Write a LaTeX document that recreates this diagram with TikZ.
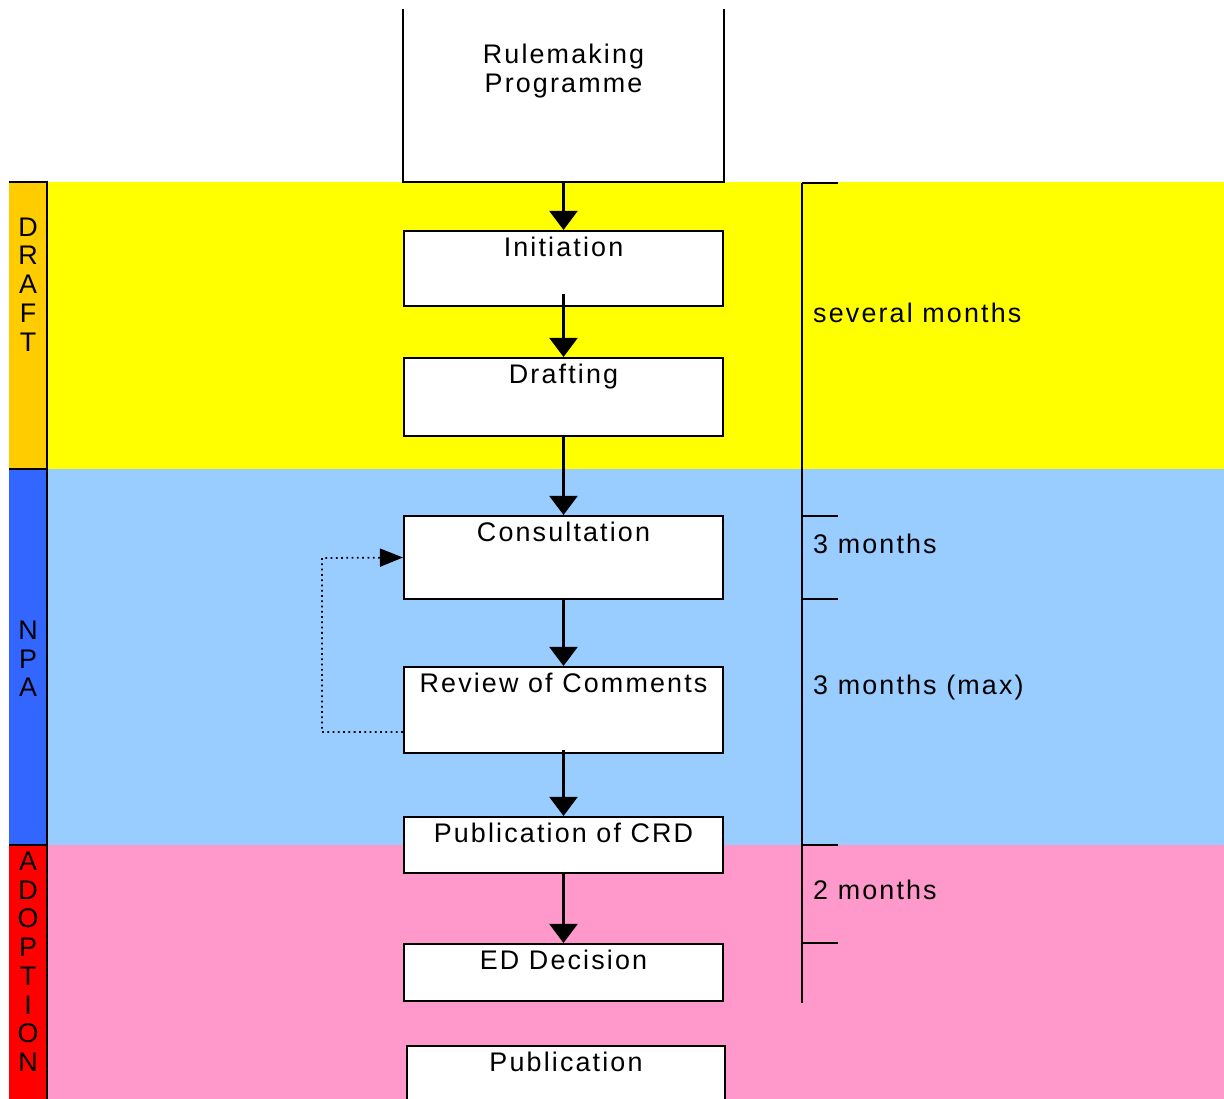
\documentclass[tikz,border=0pt]{standalone}
\usepackage{fontspec}
\setmainfont{Liberation Sans}[LetterSpace=8]
\usetikzlibrary{arrows.meta,calc}
\definecolor{draftband}{HTML}{FFFF00}
\definecolor{draftbar}{HTML}{FFCC00}
\definecolor{npaband}{HTML}{99CCFF}
\definecolor{npabar}{HTML}{3366FF}
\definecolor{adoptband}{HTML}{FF99CC}
\definecolor{adoptbar}{HTML}{FF0000}
\tikzset{
  box/.style={draw, fill=white, line width=1.2pt, minimum width=6.38cm, inner sep=0pt},
  title/.style={anchor=north, inner sep=0pt, yshift=-0.13cm},
  flow/.style={line width=1.3pt, -{Triangle[width=0.56cm,length=0.38cm]}},
  loop/.style={dotted, line width=1pt, -{Triangle[width=0.36cm,length=0.46cm]}},
}
\begin{document}
\begin{tikzpicture}[font=\fontsize{15.3}{16.5}\selectfont]
\path[use as bounding box] (0,0) rectangle (24.48,-21.98);
\clip (0,0) rectangle (24.48,-21.98);
% phase bands
\fill[draftband] (0.94,-3.64) rectangle (24.48,-9.38);
\fill[npaband] (0.94,-9.38) rectangle (24.48,-16.9);
\fill[adoptband] (0.94,-16.9) rectangle (24.48,-22.5);
\fill[draftbar] (0.18,-3.64) rectangle (0.94,-9.38);
\fill[npabar] (0.18,-9.38) rectangle (0.94,-16.9);
\fill[adoptbar] (0.18,-16.9) rectangle (0.94,-22.5);
\draw[line width=1.3pt] (0.18,-3.64) -- (0.94,-3.64) -- (0.94,-22.5);
\draw[line width=1.3pt] (0.18,-9.38) -- (0.94,-9.38);
\draw[line width=1.3pt] (0.18,-16.9) -- (0.94,-16.9);
\foreach \l [count=\i from 0] in {D,R,A,F,T}
  \node at (0.56,-4.54-0.575*\i) {\l};
\foreach \l [count=\i from 0] in {N,P,A}
  \node at (0.56,-12.6-0.575*\i) {\l};
\foreach \l [count=\i from 0] in {A,D,O,P,T,I,O,N}
  \node at (0.56,-17.22-0.575*\i) {\l};
% steps
\node[box, draw=none, minimum height=3.42cm,
  label={[title, yshift=-0.56cm, align=center]north:Rulemaking\\Programme}] (rmp) at (11.27,-1.91) {};
\draw[line width=1.2pt] (rmp.north west) -- (rmp.south west) -- (rmp.south east) -- (rmp.north east);
\node[box, minimum height=1.5cm, label={[title]north:Initiation}] (init) at (11.27,-5.37) {};
\node[box, minimum height=1.56cm, label={[title]north:Drafting}] (draft) at (11.27,-7.94) {};
\node[box, minimum height=1.66cm, label={[title]north:Consultation}] (cons) at (11.27,-11.15) {};
\node[box, minimum height=1.72cm, label={[title]north:Review of Comments}] (rev) at (11.27,-14.2) {};
\node[box, minimum height=1.12cm, label={[title]north:Publication of CRD}] (crd) at (11.27,-16.9) {};
\node[box, minimum height=1.14cm, label={[title]north:ED Decision}] (ed) at (11.27,-19.45) {};
\node[box, minimum width=6.36cm, minimum height=2cm, label={[title]north:Publication}] (pub) at (11.32,-21.92) {};
\draw[flow] (rmp.south) -- (init.north);
\draw[flow] ($(init.south)+(0,0.26)$) -- (draft.north);
\draw[flow] (draft.south) -- (cons.north);
\draw[flow] (cons.south) -- (rev.north);
\draw[flow] ($(rev.south)+(0,0.08)$) -- (crd.north);
\draw[flow] (crd.south) -- (ed.north);
\draw[loop] ($(rev.south west)+(0,0.44)$) -| (6.44,-11.16) -- (cons.west);
% durations
\draw[line width=1.3pt] (16.04,-3.66) -- (16.04,-20.06);
\foreach \y in {-3.66,-10.32,-11.98,-16.9,-18.86}
  \draw[line width=1.3pt] (16.04,\y) -- (16.76,\y);
\node[anchor=west] (tdraft) at (16.14,-6.26) {several months};
\node[anchor=west] (tcons) at (16.14,-10.88) {3 months};
\node[anchor=west] (trev) at (16.14,-13.76) {3 months (max)};
\node[anchor=west] (tadopt) at (16.14,-17.8) {2 months};
\end{tikzpicture}
\end{document}
